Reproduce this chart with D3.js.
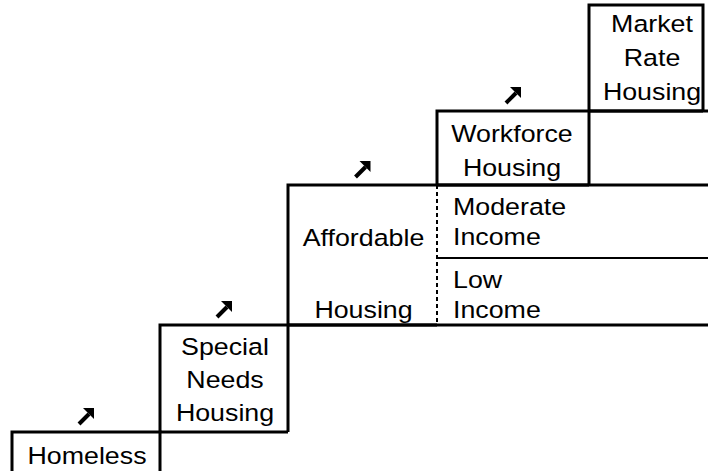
<!DOCTYPE html>
<html>
<head>
<meta charset="utf-8">
<script src="https://cdn.jsdelivr.net/npm/d3@7"></script>
<style>
  html, body { margin: 0; padding: 0; background: #fff; }
  svg { display: block; }
</style>
</head>
<body>
<svg id="chart" width="708" height="471"></svg>
<script>
// steps of the housing ladder, bottom to top
const steps = ['Homeless', 'Special Needs Housing', 'Affordable Housing', 'Workforce Housing', 'Market Rate Housing']
const stepLines = [['Homeless'], ['Special', 'Needs', 'Housing'], ['Affordable', 'Housing'], ['Workforce', 'Housing'], ['Market', 'Rate', 'Housing']]
const incomeBands = [['Moderate', 'Income'], ['Low', 'Income']]

// column edges / level edges of the staircase (index units)
const colEdges = [0, 1, 2, 3, 4, 5]
const levelEdges = [0, 1, 2, 3, 4, 5]

let svg = d3.select('#chart')

let x = d3.scaleLinear().domain(colEdges).range([12, 160, 288, 437, 589, 703])
let y = d3.scaleLinear().domain(levelEdges).range([490, 432, 325, 185, 111, 5])
let yMid = (y(2) + y(3)) / 2 + 3

let lines = svg.append('g').attr('fill', 'none').attr('stroke', '#000')

// boxes for each step (Affordable has a dashed right side)
steps.forEach(function (s, i) {
  let x0 = x(i), x1 = x(i + 1), y0 = y(i + 1), y1 = y(i)
  let p = d3.path()
  p.moveTo(x0, y1); p.lineTo(x0, y0); p.lineTo(x1, y0)
  if (i !== 2) p.lineTo(x1, y1)
  p.moveTo(x0, y1); p.lineTo(x1, y1)
  lines.append('path').attr('d', p.toString()).attr('stroke-width', 3)
})

// dashed split on Affordable
lines.append('line')
  .attr('x1', x(3)).attr('x2', x(3))
  .attr('y1', y(3)).attr('y2', y(2))
  .attr('stroke-width', 2)
  .attr('stroke-dasharray', '4,3')

// level lines running out to the right edge
;[2, 3, 4].forEach(function (l) {
  lines.append('line')
    .attr('x1', x(l)).attr('x2', 708)
    .attr('y1', y(l)).attr('y2', y(l))
    .attr('stroke-width', 3)
})
lines.append('line')
  .attr('x1', x(3)).attr('x2', 708)
  .attr('y1', yMid).attr('y2', yMid)
  .attr('stroke-width', 2)

let font = '"Liberation Sans", Arial, sans-serif'
let stretch = 'scale(1.14,1)'

// step labels (text in the original is stretched sideways)
let lineGap = [0, 33, 72, 34, 34]
let firstBase = [464, 355, 246, 142, 32]
let labelShift = [1, 1, 1, -1, 6]
steps.forEach(function (s, i) {
  let cx = (x(i) + x(i + 1)) / 2 + labelShift[i]
  svg.append('text')
    .attr('transform', 'translate(' + cx + ',0) ' + stretch)
    .attr('text-anchor', 'middle')
    .style('font-family', font)
    .style('font-size', '23.5px')
    .attr('fill', '#000')
    .selectAll('tspan')
    .data(stepLines[i])
    .enter().append('tspan')
    .attr('x', 0)
    .attr('y', function (d, j) { return firstBase[i] + j * lineGap[i] })
    .text(function (d) { return d })
})

// income band labels
let bandTop = [y(3), yMid]
incomeBands.forEach(function (b, i) {
  svg.append('text')
    .attr('transform', 'translate(' + (x(3) + 16) + ',0) ' + stretch)
    .style('font-family', font)
    .style('font-size', '23.5px')
    .attr('fill', '#000')
    .selectAll('tspan')
    .data(b)
    .enter().append('tspan')
    .attr('x', 0)
    .attr('y', function (d, j) { return bandTop[i] + 30 + j * 30 })
    .text(function (d) { return d })
})

// arrows above each box (except top)
steps.slice(0, 4).forEach(function (s, i) {
  let cx = (x(i) + x(i + 1)) / 2
  let cy = y(i + 1) - 16
  let g = svg.append('g').attr('transform', 'translate(' + cx + ',' + cy + ')')
  g.append('line')
    .attr('x1', -7).attr('y1', 8).attr('x2', 3).attr('y2', -2)
    .attr('stroke', '#000').attr('stroke-width', 4)
  g.append('path')
    .attr('d', 'M-3,-8L8,-8L8,3Z')
    .attr('fill', '#000')
})
</script>
</body>
</html>
